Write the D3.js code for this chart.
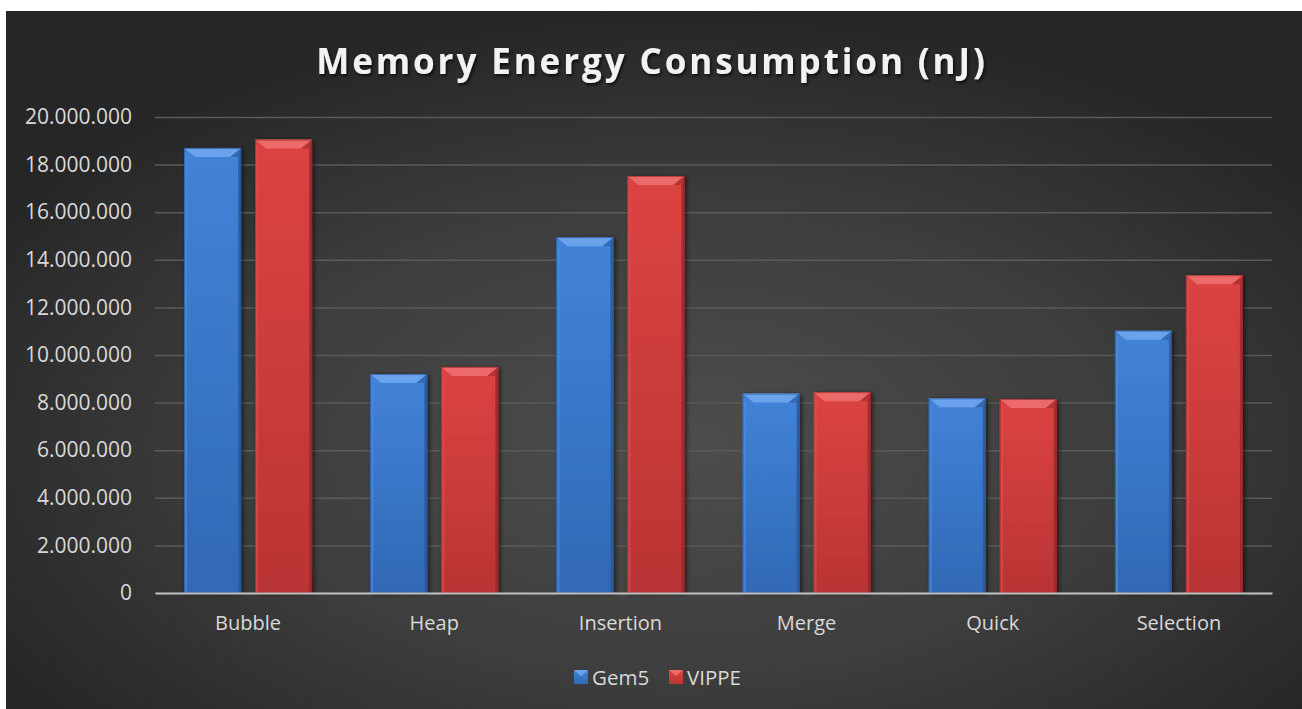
<!DOCTYPE html>
<html>
<head>
<meta charset="utf-8">
<script src="https://cdn.jsdelivr.net/npm/d3@7"></script>
<style>
  html, body { margin: 0; padding: 0; background: #ffffff; }
  svg { display: block; }
  text { font-family: "Open Sans", "Noto Sans", sans-serif; }
</style>
</head>
<body>
<svg id="chart" width="1302" height="709"></svg>
<script>
// Sorting algorithms and their memory energy (nJ)
const categories = ["Bubble", "Heap", "Insertion", "Merge", "Quick", "Selection"];
const seriesNames = ["Gem5", "VIPPE"];
const gem5Values = [18700000, 9200000, 14950000, 8380000, 8180000, 11020000];
const vippeValues = [19050000, 9500000, 17520000, 8440000, 8150000, 13350000];
const yTicks = [0, 2000000, 4000000, 6000000, 8000000, 10000000, 12000000, 14000000, 16000000, 18000000, 20000000];
const titleText = "Memory Energy Consumption (nJ)";

const seriesValues = { "Gem5": gem5Values, "VIPPE": vippeValues };
const palette = {
  "Gem5":  { top: "#4283d8", bottom: "#3069b5", bevel: "#6aa2ec", left: "#4d8de0", right: "#2a5a9e", edge: "#244f8c" },
  "VIPPE": { top: "#dc4343", bottom: "#b93434", bevel: "#ec6a6a", left: "#e04e4e", right: "#9e2a2a", edge: "#8a2424" }
};

const W = 1302, H = 709;
const svg = d3.select("#chart");
const defs = svg.append("defs");

// Background: dark radial glow, brighter toward the middle
const bg = defs.append("radialGradient").attr("id", "bgGrad")
  .attr("cx", "52%").attr("cy", "62%").attr("r", "62%");
bg.append("stop").attr("offset", "0%").attr("stop-color", "#4d4d4d");
bg.append("stop").attr("offset", "55%").attr("stop-color", "#3d3d3d");
bg.append("stop").attr("offset", "100%").attr("stop-color", "#262626");

svg.append("rect").attr("x", 6).attr("y", 11).attr("width", W - 6).attr("height", H - 11)
  .attr("fill", "url(#bgGrad)");

// Shadows
const sh = defs.append("filter").attr("id", "barShadow")
  .attr("x", "-20%").attr("y", "-20%").attr("width", "150%").attr("height", "150%");
sh.append("feDropShadow").attr("dx", 2).attr("dy", 1).attr("stdDeviation", 2)
  .attr("flood-color", "#000").attr("flood-opacity", 0.55);

const tsh = defs.append("filter").attr("id", "titleShadow")
  .attr("x", "-10%").attr("y", "-30%").attr("width", "120%").attr("height", "160%");
tsh.append("feDropShadow").attr("dx", 1.5).attr("dy", 2).attr("stdDeviation", 1.5)
  .attr("flood-color", "#000").attr("flood-opacity", 0.7);

seriesNames.forEach(s => {
  const g = defs.append("linearGradient").attr("id", "fill-" + s)
    .attr("x1", 0).attr("y1", 0).attr("x2", 0).attr("y2", 1);
  g.append("stop").attr("offset", "0%").attr("stop-color", palette[s].top);
  g.append("stop").attr("offset", "100%").attr("stop-color", palette[s].bottom);
});

// Scales
const plot = { left: 155, right: 1272, top: 117, bottom: 593 };
const x0 = d3.scaleBand().domain(categories).range([plot.left, plot.right]).padding(0);
const x1 = d3.scaleBand().domain(seriesNames).range([0, x0.bandwidth()])
  .paddingInner(0.197).paddingOuter(0.41);
const y = d3.scaleLinear().domain([0, 20000000]).range([plot.bottom, plot.top]);

const locale = d3.formatLocale({ decimal: ",", thousands: ".", grouping: [3], currency: ["", ""] });
const fmt = locale.format(",");

// Title
svg.append("text")
  .attr("x", 652).attr("y", 74)
  .attr("text-anchor", "middle")
  .attr("fill", "#f2f2f2")
  .attr("font-size", 35).attr("font-weight", 700)
  .attr("letter-spacing", 2.9)
  .attr("filter", "url(#titleShadow)")
  .text(titleText);

// Gridlines and y labels
const yAxis = d3.axisLeft(y).tickValues(yTicks).tickFormat(fmt)
  .tickSize(-(plot.right - plot.left)).tickPadding(23);
const yg = svg.append("g").attr("transform", `translate(${plot.left},0)`).call(yAxis);
yg.select(".domain").remove();
yg.selectAll(".tick line").attr("stroke", "#5a5a5a").attr("stroke-width", 1.5);
yg.selectAll(".tick text")
  .attr("fill", "#d9d9d9").attr("font-size", 21)
  .attr("font-family", "\"Open Sans\", sans-serif");

// Bars with a bevelled face
const bevel = 9;
const groups = svg.append("g").selectAll("g").data(categories).join("g")
  .attr("transform", d => `translate(${x0(d)},0)`);

groups.each(function(cat, i) {
  const g = d3.select(this);
  seriesNames.forEach(s => {
    const v = seriesValues[s][i];
    const bx = x1(s), bw = x1.bandwidth();
    const by = y(v), bh = y(0) - y(v);
    const p = palette[s];
    const bar = g.append("g").attr("filter", "url(#barShadow)");
    bar.append("rect").attr("x", bx).attr("y", by).attr("width", bw).attr("height", bh)
      .attr("fill", `url(#fill-${s})`);
    // left face
    bar.append("path").attr("d", `M${bx},${by} L${bx + 3},${by + bevel} L${bx + 3},${by + bh} L${bx},${by + bh} Z`)
      .attr("fill", p.left).attr("opacity", 0.7);
    // right face
    bar.append("path").attr("d", `M${bx + bw},${by} L${bx + bw - 3},${by + bevel} L${bx + bw - 3},${by + bh} L${bx + bw},${by + bh} Z`)
      .attr("fill", p.right).attr("opacity", 0.85);
    // top bevel
    bar.append("path").attr("d", `M${bx},${by} L${bx + bw},${by} L${bx + bw - bevel - 2},${by + bevel} L${bx + bevel + 2},${by + bevel} Z`)
      .attr("fill", p.bevel);
    // top-right corner shade
    bar.append("path").attr("d", `M${bx + bw},${by} L${bx + bw - bevel - 2},${by + bevel} L${bx + bw - 3},${by + bevel} Z`)
      .attr("fill", p.right).attr("opacity", 0.6);
    bar.append("rect").attr("x", bx + 0.5).attr("y", by + 0.5).attr("width", bw - 1).attr("height", bh - 1)
      .attr("fill", "none").attr("stroke", p.edge).attr("stroke-width", 1).attr("opacity", 0.6);
  });
});

// Zero line and category labels
const xAxis = d3.axisBottom(x0).tickSize(0).tickPadding(23);
const xg = svg.append("g").attr("transform", `translate(0,${plot.bottom})`).call(xAxis);
xg.select(".domain").attr("stroke", "#bfbfbf").attr("stroke-width", 2);
xg.selectAll(".tick text")
  .attr("fill", "#d9d9d9").attr("font-size", 20)
  .attr("font-family", "\"Open Sans\", sans-serif");

// Legend
const legendX = { "Gem5": 574, "VIPPE": 669 };
const lg = svg.append("g");
seriesNames.forEach(s => {
  const p = palette[s];
  const lx = legendX[s], ly = 670, sz = 14;
  const item = lg.append("g");
  item.append("rect").attr("x", lx).attr("y", ly).attr("width", sz).attr("height", sz).attr("fill", `url(#fill-${s})`);
  item.append("path").attr("d", `M${lx},${ly} L${lx + sz},${ly} L${lx + sz / 2},${ly + 6} Z`).attr("fill", p.bevel);
  item.append("text").attr("x", lx + sz + 4).attr("y", ly + 14.5)
    .attr("fill", "#d9d9d9").attr("font-size", 20.5).text(s);
});
</script>
</body>
</html>
